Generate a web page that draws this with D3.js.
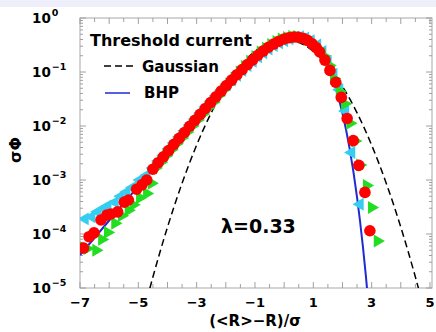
<!DOCTYPE html>
<html lang="en">
<head>
<meta charset="UTF-8">
<title>Threshold current distribution</title>
<script src="https://d3js.org/d3.v7.min.js"></script>
<style>
  body { margin: 0; background: #fff; }
  svg { display: block; font-family: "DejaVu Sans", sans-serif; font-weight: bold; }
</style>
</head>
<body>
<div id="chart"></div>
<script>
// x = (<R>-R)/sigma, y = log10(sigma*Phi)
const bhpCurve = [
  [-7, -4.389], [-6, -3.750], [-5, -3.113], [-4, -2.480], [-3.5, -2.167], [-3, -1.858],
  [-2.5, -1.555], [-2, -1.263], [-1.5, -0.986], [-1, -0.737], [-0.5, -0.529], [0, -0.389],
  [0.2, -0.361], [0.4, -0.352], [0.6, -0.368], [0.8, -0.414], [1, -0.496], [1.2, -0.621],
  [1.4, -0.799], [1.6, -1.039], [1.8, -1.356], [2, -1.765], [2.25, -2.433], [2.5, -3.320],
  [2.6, -3.75], [2.7, -4.23], [2.8, -4.76], [2.9, -5.35]
];

const gaussCurve = [
  [-4.8, -5.40], [-4.5, -4.796], [-4, -3.873], [-3.5, -3.059], [-3, -2.353], [-2.5, -1.756],
  [-2, -1.268], [-1.5, -0.888], [-1, -0.616], [-0.5, -0.453], [0, -0.399], [0.5, -0.453],
  [1, -0.616], [1.5, -0.888], [2, -1.268], [2.5, -1.756], [3, -2.353], [3.5, -3.059],
  [4, -3.873], [4.5, -4.796], [4.8, -5.40]
];

const redCircles = [
  [-6.88, -4.26], [-6.69, -4.05], [-6.52, -3.98], [-6.28, -3.74], [-6.08, -3.65], [-5.94, -3.63],
  [-5.71, -3.59], [-5.48, -3.41], [-5.34, -3.37], [-5.06, -3.17], [-4.88, -3.09], [-4.71, -3.0],
  [-4.50, -2.80], [-4.32, -2.68], [-4.14, -2.57], [-3.96, -2.455], [-3.78, -2.34], [-3.60, -2.23],
  [-3.42, -2.12], [-3.24, -2.005], [-3.06, -1.895], [-2.88, -1.785], [-2.70, -1.675], [-2.52, -1.565],
  [-2.34, -1.46], [-2.16, -1.355], [-1.98, -1.25], [-1.80, -1.15], [-1.62, -1.05], [-1.44, -0.955],
  [-1.26, -0.862], [-1.08, -0.775], [-0.90, -0.69], [-0.72, -0.612], [-0.54, -0.542], [-0.36, -0.482],
  [-0.18, -0.43], [0.00, -0.389], [0.16, -0.365], [0.32, -0.353], [0.48, -0.356], [0.64, -0.374],
  [0.80, -0.414], [0.96, -0.478], [1.10, -0.55], [1.22, -0.63], [1.40, -0.78], [1.57, -0.97],
  [1.77, -1.19], [1.96, -1.47], [2.16, -1.86], [2.37, -2.27], [2.56, -2.73], [2.77, -3.23], [2.94, -3.94]
];

const cyanTriangles = [
  [-6.83, -3.72], [-6.6, -3.68], [-6.4, -3.59], [-6.2, -3.53], [-6.05, -3.48], [-5.8, -3.41],
  [-5.6, -3.30], [-5.4, -3.22], [-5.2, -3.14], [-4.95, -3.0], [-4.71, -2.91], [-4.5, -2.78],
  [-4.31, -2.65], [-4.13, -2.54], [-3.95, -2.42], [-3.77, -2.31], [-3.59, -2.20], [-3.41, -2.09],
  [-3.23, -1.98], [-3.05, -1.87], [-2.87, -1.76], [-2.69, -1.65], [-2.51, -1.54], [-2.33, -1.44],
  [-2.15, -1.34], [-1.97, -1.24], [-1.79, -1.15], [-1.61, -1.06], [-1.43, -0.97], [-1.25, -0.88],
  [-1.07, -0.80], [-0.89, -0.72], [-0.71, -0.645], [-0.53, -0.575], [-0.35, -0.51], [-0.17, -0.46],
  [0.01, -0.42], [0.19, -0.385], [0.37, -0.35], [0.55, -0.345], [0.73, -0.37], [0.92, -0.42],
  [1.14, -0.50], [1.32, -0.62], [1.5, -0.80], [1.7, -1.04], [1.9, -1.33], [2.1, -1.72],
  [2.31, -2.49], [2.6, -3.45]
];

const greenTriangles = [
  [-7.0, -4.22], [-6.75, -4.27], [-6.45, -4.30], [-6.25, -4.10], [-6.05, -3.97], [-5.8, -3.80],
  [-5.57, -3.66], [-5.34, -3.56], [-5.17, -3.46], [-4.95, -3.33], [-4.71, -3.25], [-4.55, -3.06],
  [-4.41, -2.78], [-4.23, -2.67], [-4.05, -2.55], [-3.87, -2.44], [-3.69, -2.33], [-3.51, -2.22],
  [-3.33, -2.11], [-3.15, -2.00], [-2.97, -1.89], [-2.79, -1.78], [-2.61, -1.665], [-2.43, -1.56],
  [-2.25, -1.44], [-2.07, -1.33], [-1.89, -1.22], [-1.71, -1.11], [-1.53, -1.0], [-1.35, -0.895],
  [-1.17, -0.80], [-0.99, -0.71], [-0.81, -0.63], [-0.63, -0.56], [-0.45, -0.49], [-0.27, -0.435],
  [-0.09, -0.39], [0.09, -0.36], [0.27, -0.34], [0.45, -0.34], [0.63, -0.36], [0.82, -0.40],
  [1.0, -0.47], [1.18, -0.57], [1.35, -0.70], [1.55, -0.88], [1.7, -1.12], [1.9, -1.36],
  [2.08, -1.59], [2.26, -1.95], [2.43, -2.28], [2.6, -2.72], [2.83, -3.1], [3.0, -3.51], [3.2, -4.13]
];

const xTickLabels = [-7, -5, -3, -1, 1, 3, 5];
const yDecades = [0, -1, -2, -3, -4, -5];

const W = 436, H = 332;
const x = d3.scaleLinear().domain([-7, 5.07]).range([80, 432]);
const y = d3.scaleLog().domain([1e-5, 1]).range([288, 18]);
const py = d => y(Math.pow(10, d));

const svg = d3.select('#chart').append('svg')
  .attr('width', W).attr('height', H);

svg.append('rect').attr('width', W).attr('height', H).attr('fill', '#fff');
svg.append('rect').attr('width', W).attr('height', 7).attr('fill', '#eeeffb');

svg.append('clipPath').attr('id', 'plot')
  .append('rect')
  .attr('x', x(-7)).attr('y', y(1))
  .attr('width', x(5.07) - x(-7)).attr('height', y(1e-5) - y(1));

// frame
svg.append('rect')
  .attr('x', x(-7)).attr('y', y(1))
  .attr('width', x(5.07) - x(-7)).attr('height', y(1e-5) - y(1))
  .attr('fill', 'none').attr('stroke', '#a8a8a8');

// x ticks (inside, top and bottom)
const xt = d3.range(-7, 5.01, 0.5);
const ticks = svg.append('g').attr('stroke', '#a0a0a0').attr('stroke-width', 1);
xt.forEach(v => {
  const len = Number.isInteger(v) ? 6 : 4;
  ticks.append('line').attr('x1', x(v)).attr('x2', x(v)).attr('y1', y(1e-5)).attr('y2', y(1e-5) - len);
  ticks.append('line').attr('x1', x(v)).attr('x2', x(v)).attr('y1', y(1)).attr('y2', y(1) + len);
});

// y ticks (inside, left and right)
yDecades.forEach(d => {
  for (let m = 1; m <= 9; m++) {
    if (d === 0 && m > 1) break;
    const v = m * Math.pow(10, d);
    const len = m === 1 ? 6 : 3;
    ticks.append('line').attr('x1', x(-7)).attr('x2', x(-7) + len).attr('y1', y(v)).attr('y2', y(v));
    ticks.append('line').attr('x1', x(5.07)).attr('x2', x(5.07) - len).attr('y1', y(v)).attr('y2', y(v));
  }
});

// tick labels
svg.append('g').selectAll('text').data(xTickLabels).join('text')
  .attr('x', d => x(d)).attr('y', 307)
  .attr('text-anchor', 'middle').attr('font-size', 13)
  .text(d => d < 0 ? '\u2212' + Math.abs(d) : d);

const yl = svg.append('g').selectAll('text').data(yDecades).join('text')
  .attr('x', 32).attr('y', d => py(d) + 5).attr('font-size', 13.5);
yl.append('tspan').text('10');
yl.append('tspan').attr('font-size', 9.5).attr('dy', -7).attr('dx', 1)
  .text(d => d < 0 ? '\u2212' + Math.abs(d) : d);

// axis titles
svg.append('text').attr('x', 255).attr('y', 326).attr('text-anchor', 'middle')
  .attr('font-size', 15).text('(<R>\u2212R)/\u03c3');
svg.append('text').attr('transform', 'translate(21,150) rotate(-90)')
  .attr('text-anchor', 'middle').attr('font-size', 16).text('\u03c3\u03a6');

// curves
const line = d3.line().x(d => x(d[0])).y(d => py(d[1])).curve(d3.curveMonotoneX);
const curves = svg.append('g').attr('clip-path', 'url(#plot)');
curves.append('path').datum(gaussCurve).attr('d', line)
  .attr('fill', 'none').attr('stroke', '#000').attr('stroke-width', 1.5)
  .attr('stroke-dasharray', '7,4');
curves.append('path').datum(bhpCurve).attr('d', line)
  .attr('fill', 'none').attr('stroke', '#1f2ad0').attr('stroke-width', 2);

// markers
const marks = svg.append('g').attr('clip-path', 'url(#plot)');
const tri = d3.symbol().type(d3.symbolTriangle).size(72);
marks.selectAll('.cy').data(cyanTriangles).join('path')
  .attr('d', tri)
  .attr('transform', d => `translate(${x(d[0])},${py(d[1])}) rotate(-90)`)
  .attr('fill', '#35cdf0');
marks.selectAll('.gr').data(greenTriangles).join('path')
  .attr('d', tri)
  .attr('transform', d => `translate(${x(d[0])},${py(d[1])}) rotate(90)`)
  .attr('fill', '#22dd22');
marks.selectAll('circle').data(redCircles).join('circle')
  .attr('cx', d => x(d[0])).attr('cy', d => py(d[1])).attr('r', 5.8)
  .attr('fill', '#ff0000');

// legend
svg.append('text').attr('x', 90).attr('y', 46).attr('font-size', 16).text('Threshold current');
svg.append('line').attr('x1', 104).attr('x2', 133).attr('y1', 66).attr('y2', 66)
  .attr('stroke', '#000').attr('stroke-width', 1.5).attr('stroke-dasharray', '7,4');
svg.append('text').attr('x', 142).attr('y', 72).attr('font-size', 15).text('Gaussian');
svg.append('line').attr('x1', 105).attr('x2', 130).attr('y1', 93).attr('y2', 93)
  .attr('stroke', '#1f2ad0').attr('stroke-width', 1.5);
svg.append('text').attr('x', 144).attr('y', 98).attr('font-size', 15).text('BHP');

svg.append('text').attr('x', 221).attr('y', 233).attr('font-size', 19).text('\u03bb=0.33');
</script>
</body>
</html>
